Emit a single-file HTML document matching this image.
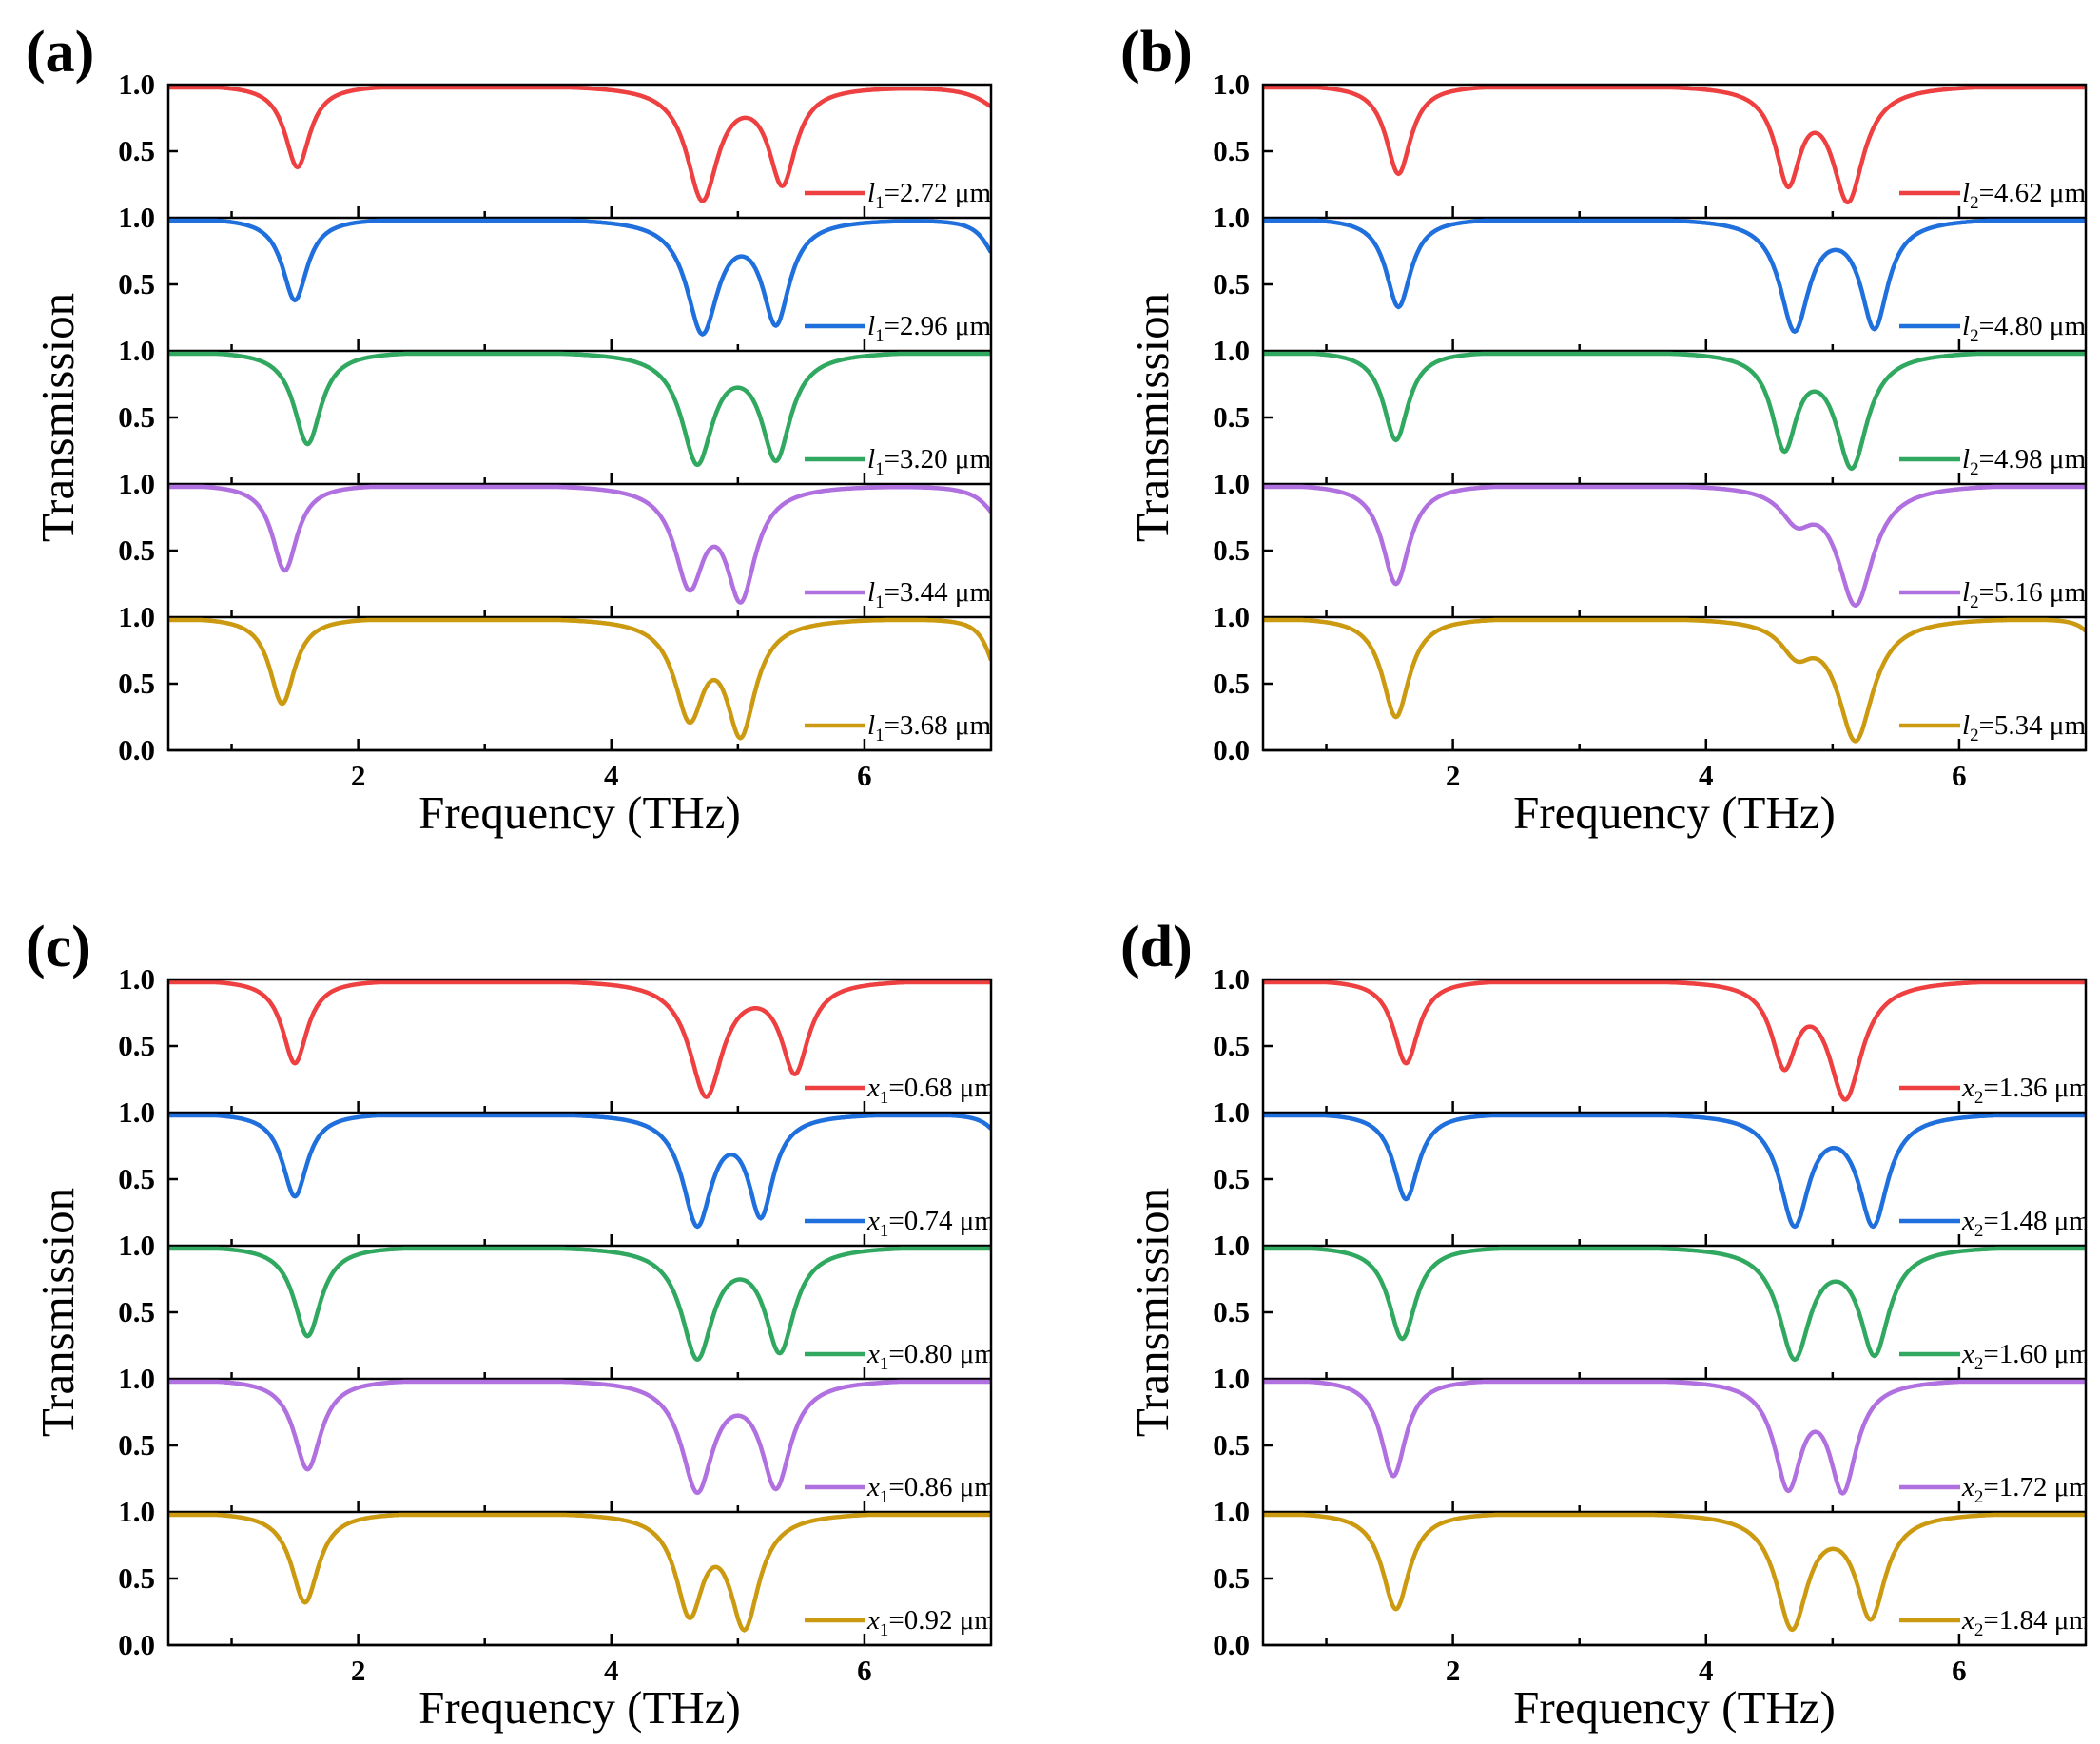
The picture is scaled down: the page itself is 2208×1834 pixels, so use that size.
<!DOCTYPE html>
<html><head><meta charset="utf-8"><style>
html,body{margin:0;padding:0;background:#fff;width:2208px;height:1834px;overflow:hidden}
svg{display:block}
text{font-family:"Liberation Serif",serif}
</style></head><body>
<svg id="s" width="2208" height="1834" xmlns="http://www.w3.org/2000/svg"></svg>
<script>
const S=document.getElementById('s');const NS='http://www.w3.org/2000/svg';
function el(t,a,txt){const e=document.createElementNS(NS,t);for(const k in a)e.setAttribute(k,a[k]);if(txt!==undefined)e.textContent=txt;S.appendChild(e);return e;}
const cols=['#ee4040','#1f6fdc','#30a860','#b070e0','#cc9a10'];
const panels=[
 {lab:'(a)',x:177,y:89,v:'l',s:'1',vals:['2.72','2.96','3.20','3.44','3.68'],c:[
  [[1.52,.38,.12],[4.72,.13,.15],[5.35,.25,.13],[7.1,.8,.2]],
  [[1.5,.38,.12],[4.72,.13,.15],[5.3,.2,.13],[7.05,.7,.12]],
  [[1.6,.3,.13],[4.68,.15,.15],[5.3,.18,.14]],
  [[1.42,.35,.12],[4.62,.22,.14],[5.02,.12,.14],[7.1,.7,.15]],
  [[1.4,.35,.12],[4.62,.23,.14],[5.02,.1,.14],[7.05,.6,.1]]]},
 {lab:'(b)',x:1328,y:89,v:'l',s:'2',vals:['4.62','4.80','4.98','5.16','5.34'],c:[
  [[1.57,.33,.12],[4.65,.25,.12],[5.12,.12,.15]],
  [[1.57,.33,.12],[4.7,.15,.14],[5.33,.17,.13]],
  [[1.55,.33,.12],[4.62,.26,.12],[5.15,.12,.15]],
  [[1.55,.25,.13],[4.72,.75,.15],[5.18,.09,.17]],
  [[1.55,.25,.13],[4.72,.75,.15],[5.18,.07,.17],[7.1,.8,.1]]]},
 {lab:'(c)',x:177,y:1030,v:'x',s:'1',vals:['0.68','0.74','0.80','0.86','0.92'],c:[
  [[1.5,.37,.12],[4.75,.12,.16],[5.45,.3,.13]],
  [[1.5,.37,.12],[4.68,.15,.14],[5.18,.22,.12],[7.1,.8,.12]],
  [[1.6,.32,.13],[4.68,.15,.15],[5.33,.2,.14]],
  [[1.6,.32,.13],[4.68,.15,.15],[5.3,.18,.14]],
  [[1.58,.32,.13],[4.62,.22,.13],[5.05,.12,.14]]]},
 {lab:'(d)',x:1328,y:1030,v:'x',s:'2',vals:['1.36','1.48','1.60','1.72','1.84'],c:[
  [[1.63,.37,.12],[4.62,.35,.12],[5.1,.1,.16]],
  [[1.63,.35,.12],[4.7,.15,.14],[5.32,.15,.14]],
  [[1.6,.3,.13],[4.7,.15,.15],[5.33,.18,.14]],
  [[1.53,.27,.12],[4.65,.17,.13],[5.08,.15,.13]],
  [[1.55,.27,.13],[4.68,.12,.15],[5.3,.2,.14]]]}
];
const W=865,H=700,sh=H/5;
panels.forEach((p,pi)=>{
 const X=f=>p.x+(f-0.5)/6.5*W;
 const cid='cl'+pi;
 const d=el('clipPath',{id:cid});const r=document.createElementNS(NS,'rect');d.appendChild(r);
 r.setAttribute('x',p.x);r.setAttribute('y',p.y-5);r.setAttribute('width',W);r.setAttribute('height',H+10);
 el('text',{x:p.x-150,y:p.y-14,'font-size':62,'font-weight':'bold'},p.lab);
 for(let k=0;k<5;k++){
  const top=p.y+k*sh,bot=top+sh;
  let pts=[];
  for(let i=0;i<=650;i++){const f=0.5+i*0.01;let T=1;
   p.c[k].forEach(([f0,m,g])=>{T*=1-(1-m)*g*g/((f-f0)*(f-f0)+g*g);});
   T=Math.min(1,T*1.025);
   pts.push((i?'L':'M')+X(f).toFixed(1)+' '+(bot-T*(sh-3)).toFixed(1));}
  el('path',{d:pts.join(''),fill:'none',stroke:cols[k],'stroke-width':4.5,'clip-path':'url(#'+cid+')'});
  const ly=bot-26,lx=p.x+W-196;
  el('line',{x1:lx,y1:ly,x2:lx+64,y2:ly,stroke:cols[k],'stroke-width':4.5});
  const t=el('text',{x:lx+66,y:ly+9,'font-size':29,'clip-path':'url(#'+cid+')'});
  t.innerHTML='<tspan font-style="italic">'+p.v+'</tspan><tspan font-size="19" dy="7">'+p.s+'</tspan><tspan dy="-7">=' +p.vals[k]+' μm</tspan>';
  for(let f=1;f<=6;f++){el('line',{x1:X(f),x2:X(f),y1:bot,y2:bot-(f%2?7:12),stroke:'#000','stroke-width':2.5});}
  el('line',{x1:p.x,x2:p.x+10,y1:top+sh/2,y2:top+sh/2,stroke:'#000','stroke-width':2.5});
  el('line',{x1:p.x,x2:p.x+W,y1:bot,y2:bot,stroke:'#000','stroke-width':2.5});
  el('text',{x:p.x-14,y:top+10,'font-size':31,'font-weight':'bold','text-anchor':'end'},'1.0');
  el('text',{x:p.x-14,y:top+sh/2+10,'font-size':31,'font-weight':'bold','text-anchor':'end'},'0.5');
 }
 el('text',{x:p.x-14,y:p.y+H+10,'font-size':31,'font-weight':'bold','text-anchor':'end'},'0.0');
 el('rect',{x:p.x,y:p.y,width:W,height:H,fill:'none',stroke:'#000','stroke-width':2.5});
 [2,4,6].forEach(f=>el('text',{x:X(f),y:p.y+H+37,'font-size':31,'font-weight':'bold','text-anchor':'middle'},String(f)));
 el('text',{x:p.x+W/2,y:p.y+H+82,'font-size':49,'text-anchor':'middle'},'Frequency (THz)');
 el('text',{x:0,y:0,'font-size':49,'text-anchor':'middle',transform:'translate('+(p.x-100)+','+(p.y+H/2)+') rotate(-90)'},'Transmission');
});
</script>
</body></html>
